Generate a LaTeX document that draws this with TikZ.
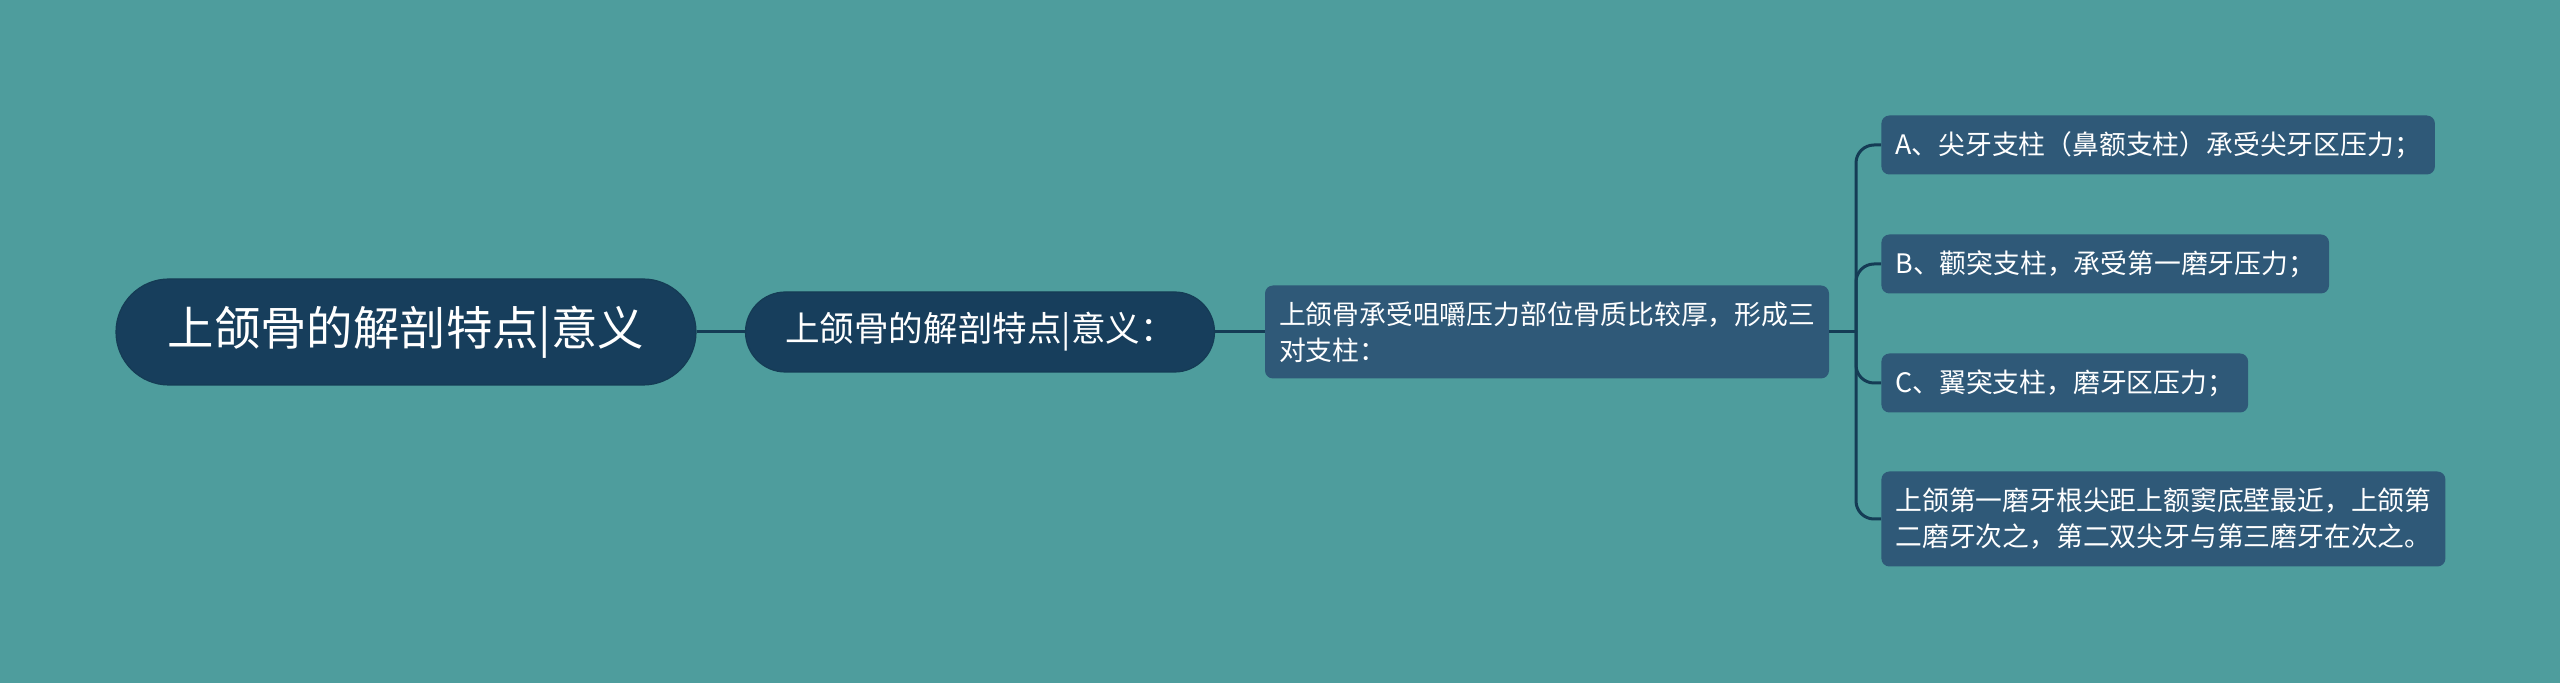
\documentclass[tikz,border=0pt]{standalone}
\usepackage{fontspec}
\newfontfamily\cjk{Noto Sans CJK SC}
\usetikzlibrary{positioning}
\definecolor{mapbg}{RGB}{78,157,157}
\definecolor{rootblue}{RGB}{23,62,92}
\definecolor{leafblue}{RGB}{47,89,120}
\definecolor{linkblue}{RGB}{21,60,85}

\begin{document}
\begin{tikzpicture}[x=0.5pt, y=-0.5pt,
    root/.style={fill=rootblue, draw=linkblue, line width=0.6pt, rounded corners=26.5pt, minimum width=290pt, minimum height=53pt, text=white, font=\cjk\fontsize{23.2}{28}\selectfont},
    sub/.style={fill=rootblue, draw=linkblue, line width=0.6pt, rounded corners=20pt, minimum width=234.5pt, minimum height=40pt, text=white, font=\cjk\fontsize{17.3}{21}\selectfont},
    leaf/.style={fill=leafblue, rounded corners=4pt, inner xsep=7pt, minimum height=29.5pt, text=white, align=left, font=\cjk\fontsize{13.4}{18}\selectfont},
    link/.style={draw=linkblue, line width=1.5pt}
]

% Background
\fill[mapbg] (0,0) rectangle (2560,683);

% Root and first level
\node[root] (root) at (406,332) {上颌骨的解剖特点|意义};
\node[sub] (sub) at (980,332) {上颌骨的解剖特点|意义：};

% Second level
\node[leaf, minimum width=282pt, minimum height=46.5pt] (press) at (1547,332) {上颌骨承受咀嚼压力部位骨质比较厚，形成三\\对支柱：};

% Leaves
\node[leaf, anchor=west] (pillarA) at (1881,145) {A、尖牙支柱（鼻额支柱）承受尖牙区压力；};
\node[leaf, anchor=west] (pillarB) at (1881,264) {B、颧突支柱，承受第一磨牙压力；};
\node[leaf, anchor=west] (pillarC) at (1881,383) {C、翼突支柱，磨牙区压力；};
\node[leaf, anchor=west, minimum height=47.5pt] (sinus) at (1881,519) {上颌第一磨牙根尖距上额窦底壁最近，上颌第\\二磨牙次之，第二双尖牙与第三磨牙在次之。};

% Connectors
\coordinate (trunk) at (1856,332);
\draw[link] (root) -- (sub);
\draw[link] (sub) -- (press);
\draw[link] (press) -- (trunk);
\foreach \leaf in {pillarA,pillarB,pillarC,sinus}
  \draw[link, rounded corners=9pt] (trunk) |- (\leaf.west);

\end{tikzpicture}
\end{document}
